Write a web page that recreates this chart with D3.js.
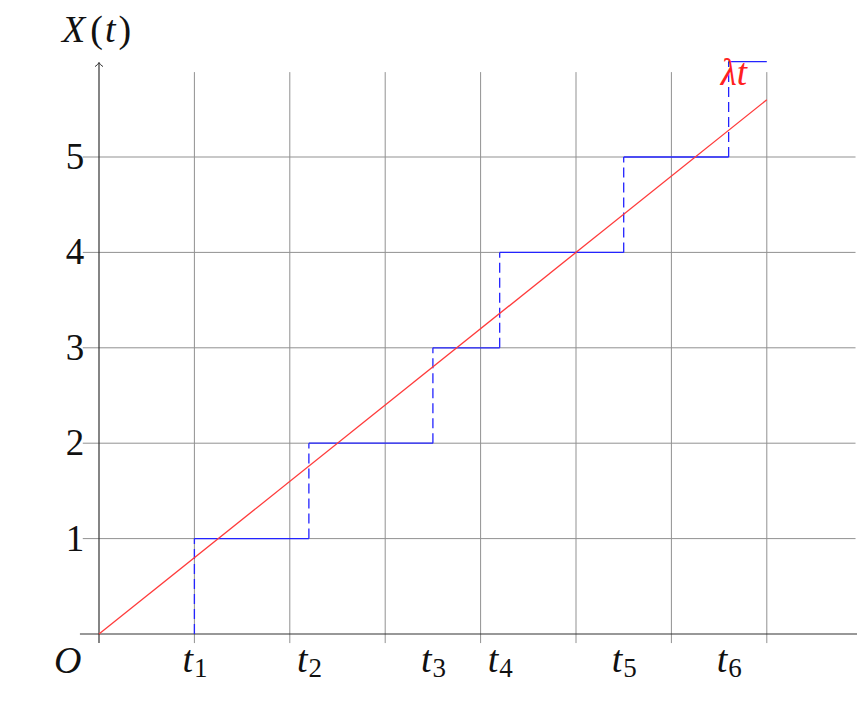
<!DOCTYPE html>
<html>
<head>
<meta charset="utf-8">
<script src="https://cdn.jsdelivr.net/npm/d3@7"></script>
<style>
 body { margin: 0; background: #fff; }
</style>
</head>
<body>
<script>
const width = 857;
const height = 705;
const serif = "\"Liberation Serif\"";

// the process: jump times and the levels reached
const jumpTimes = [1.0, 2.2, 3.5, 4.2, 5.5, 6.6];
const levels = [1, 2, 3, 4, 5, 6];
const endTime = 7;
const lambda = 0.8;

const yTicks = [1, 2, 3, 4, 5];
const xGrid = [1, 2, 3, 4, 5, 6, 7];
const tLabels = ["1", "2", "3", "4", "5", "6"];

const x = d3.scaleLinear().domain([0, 8]).range([99, 99 + 8 * 95.4]);
const y = d3.scaleLinear().domain([0, 6]).range([634, 634 - 6 * 95.4]);

const svg = d3.select("body")
  .append("svg")
    .attr("width", width)
    .attr("height", height);

svg.append("defs").append("marker")
  .attr("id", "arrow")
  .attr("viewBox", "0 0 10 10")
  .attr("refX", 5).attr("refY", 1)
  .attr("markerWidth", 10).attr("markerHeight", 10)
  .attr("markerUnits", "userSpaceOnUse")
  .attr("orient", "0")
  .append("path")
    .attr("d", "M1,5 Q4,3 5,1 Q6,3 9,5")
    .attr("fill", "none")
    .attr("stroke", "#333")
    .attr("stroke-width", 1);

// grid
svg.append("g")
  .selectAll("line")
  .data(xGrid)
  .join("line")
    .attr("x1", d => x(d)).attr("x2", d => x(d))
    .attr("y1", y(-0.095)).attr("y2", y(5.89))
    .attr("stroke", "#919191").attr("stroke-width", 1);

svg.append("g")
  .selectAll("line")
  .data(yTicks)
  .join("line")
    .attr("x1", x(-0.17)).attr("x2", x(7.93))
    .attr("y1", d => y(d)).attr("y2", d => y(d))
    .attr("stroke", "#919191").attr("stroke-width", 1);

// axes
svg.append("line")
  .attr("x1", x(-0.2)).attr("x2", width)
  .attr("y1", y(0)).attr("y2", y(0))
  .attr("stroke", "#333").attr("stroke-width", 1.2);

svg.append("line")
  .attr("x1", x(0)).attr("x2", x(0))
  .attr("y1", y(-0.095)).attr("y2", y(6) + 1)
  .attr("stroke", "#333").attr("stroke-width", 1.2)
  .attr("marker-end", "url(#arrow)");

// step function: horizontal pieces
const steps = levels.map((lv, i) => ({
  x1: jumpTimes[i],
  x2: i + 1 < jumpTimes.length ? jumpTimes[i + 1] : endTime,
  level: lv
}));

svg.append("g")
  .selectAll("line")
  .data(steps)
  .join("line")
    .attr("x1", d => x(d.x1)).attr("x2", d => x(d.x2))
    .attr("y1", d => y(d.level)).attr("y2", d => y(d.level))
    .attr("stroke", "#2323ff").attr("stroke-width", 1.3);

// dashed jumps
svg.append("g")
  .selectAll("line")
  .data(steps)
  .join("line")
    .attr("x1", d => x(d.x1)).attr("x2", d => x(d.x1))
    .attr("y1", d => y(d.level - 1)).attr("y2", d => y(d.level))
    .attr("stroke", "#2323ff").attr("stroke-width", 1.3)
    .attr("stroke-dasharray", "10,5");

// mean line lambda t
svg.append("line")
  .attr("x1", x(0)).attr("y1", y(0))
  .attr("x2", x(endTime)).attr("y2", y(lambda * endTime))
  .attr("stroke", "#ff3b3b").attr("stroke-width", 1.3);

// tick labels
svg.append("g")
  .selectAll("text")
  .data(yTicks)
  .join("text")
    .attr("x", 75).attr("y", d => y(d) + 12)
    .attr("text-anchor", "middle")
    .style("font-family", serif)
    .style("font-size", "37px")
    .attr("fill", "#111")
    .text(d => d);

const tl = svg.append("g")
  .selectAll("text")
  .data(jumpTimes)
  .join("text")
    .attr("x", d => x(d) - 12)
    .attr("y", 672)
    .style("font-family", serif)
    .style("font-size", "38px")
    .attr("fill", "#111");
tl.append("tspan").style("font-style", "italic").text("t");
tl.append("tspan").attr("dx", 1).attr("dy", 5).style("font-size", "27px").text((d, i) => tLabels[i]);

svg.append("text")
  .attr("x", 54).attr("y", 673)
  .style("font-family", serif)
  .style("font-size", "38px").style("font-style", "italic")
  .attr("fill", "#111")
  .text("O");

const yl = svg.append("text")
  .attr("x", 62).attr("y", 42)
  .style("font-family", serif)
  .style("font-size", "38px")
  .attr("fill", "#111");
yl.append("tspan").style("font-style", "italic").text("X");
yl.append("tspan").attr("dx", 5).text("(");
yl.append("tspan").attr("dx", 2).style("font-style", "italic").text("t");
yl.append("tspan").attr("dx", 3).text(")");

svg.append("text")
  .attr("x", x(6.6) - 8).attr("y", 85)
  .style("font-family", serif)
  .style("font-size", "37px")
  .attr("fill", "#ff2020")
  .style("font-style", "italic")
  .text("λt");
</script>
</body>
</html>
